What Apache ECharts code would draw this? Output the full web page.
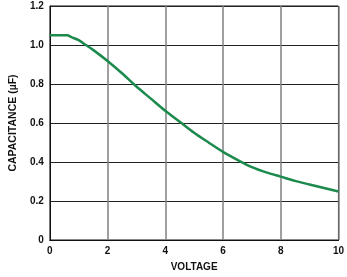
<!DOCTYPE html>
<html>
<head>
<meta charset="utf-8">
<script src="https://cdn.jsdelivr.net/npm/echarts@6/dist/echarts.min.js"></script>
<style>
html,body{margin:0;padding:0;background:#fff;}
#c{width:347px;height:277px;}
</style>
</head>
<body>
<div id="c"></div>
<script>
const voltage = [0, 0.25, 0.5, 0.6, 0.75, 1.0, 1.25, 1.5, 2.0, 2.5, 3.0, 3.5, 4.0, 4.5, 5.0, 5.5, 6.0, 6.5, 7.0, 7.5, 8.0, 8.5, 9.0, 9.5, 10.0];
const capacitance = [1.05, 1.05, 1.05, 1.05, 1.04, 1.025, 1.0, 0.975, 0.918, 0.855, 0.787, 0.725, 0.663, 0.607, 0.550, 0.500, 0.452, 0.411, 0.374, 0.347, 0.325, 0.303, 0.285, 0.267, 0.249];
const xTicks = [0, 2, 4, 6, 8, 10];
const yTicks = ["0", "0.2", "0.4", "0.6", "0.8", "1.0", "1.2"];
const xTitle = "VOLTAGE";
const yTitle = "CAPACITANCE (µF)";

const chart = echarts.init(document.getElementById('c'), null, {renderer: 'canvas'});
const font = 'Liberation Sans, Arial, sans-serif';
chart.setOption({
  animation: false,
  grid: {left: 44, right: 6, top: 6, bottom: 34, show: true, borderColor: '#111', borderWidth: 1},
  xAxis: {
    type: 'value', min: 0, max: 10, interval: 2,
    name: xTitle, nameLocation: 'middle', nameGap: 22,
    nameTextStyle: {fontFamily: font, fontWeight: 'bold', fontSize: 10, color: '#111'},
    axisLine: {lineStyle: {color: '#111', width: 1}},
    axisTick: {show: false},
    axisLabel: {fontFamily: font, fontWeight: 'bold', fontSize: 10, color: '#111', margin: 6,
      formatter: v => xTicks.includes(v) ? String(v) : ''},
    splitLine: {show: true, lineStyle: {color: '#808080', width: 1.5}}
  },
  yAxis: {
    type: 'value', min: 0, max: 1.2, interval: 0.2,
    name: yTitle, nameLocation: 'middle', nameGap: 29,
    nameTextStyle: {fontFamily: font, fontWeight: 'bold', fontSize: 10.5, color: '#111'},
    axisLine: {lineStyle: {color: '#111', width: 1}},
    axisTick: {show: false},
    axisLabel: {fontFamily: font, fontWeight: 'bold', fontSize: 10, color: '#111', margin: 6,
      formatter: (v) => yTicks[Math.round(v / 0.2)]},
    splitLine: {show: true, lineStyle: {color: '#222', width: 1}}
  },
  series: [{
    type: 'line',
    data: voltage.map((v, i) => [v, capacitance[i]]),
    smooth: 0.3,
    showSymbol: false,
    lineStyle: {color: '#1c8a4c', width: 2.5}
  }]
});
</script>
</body>
</html>
